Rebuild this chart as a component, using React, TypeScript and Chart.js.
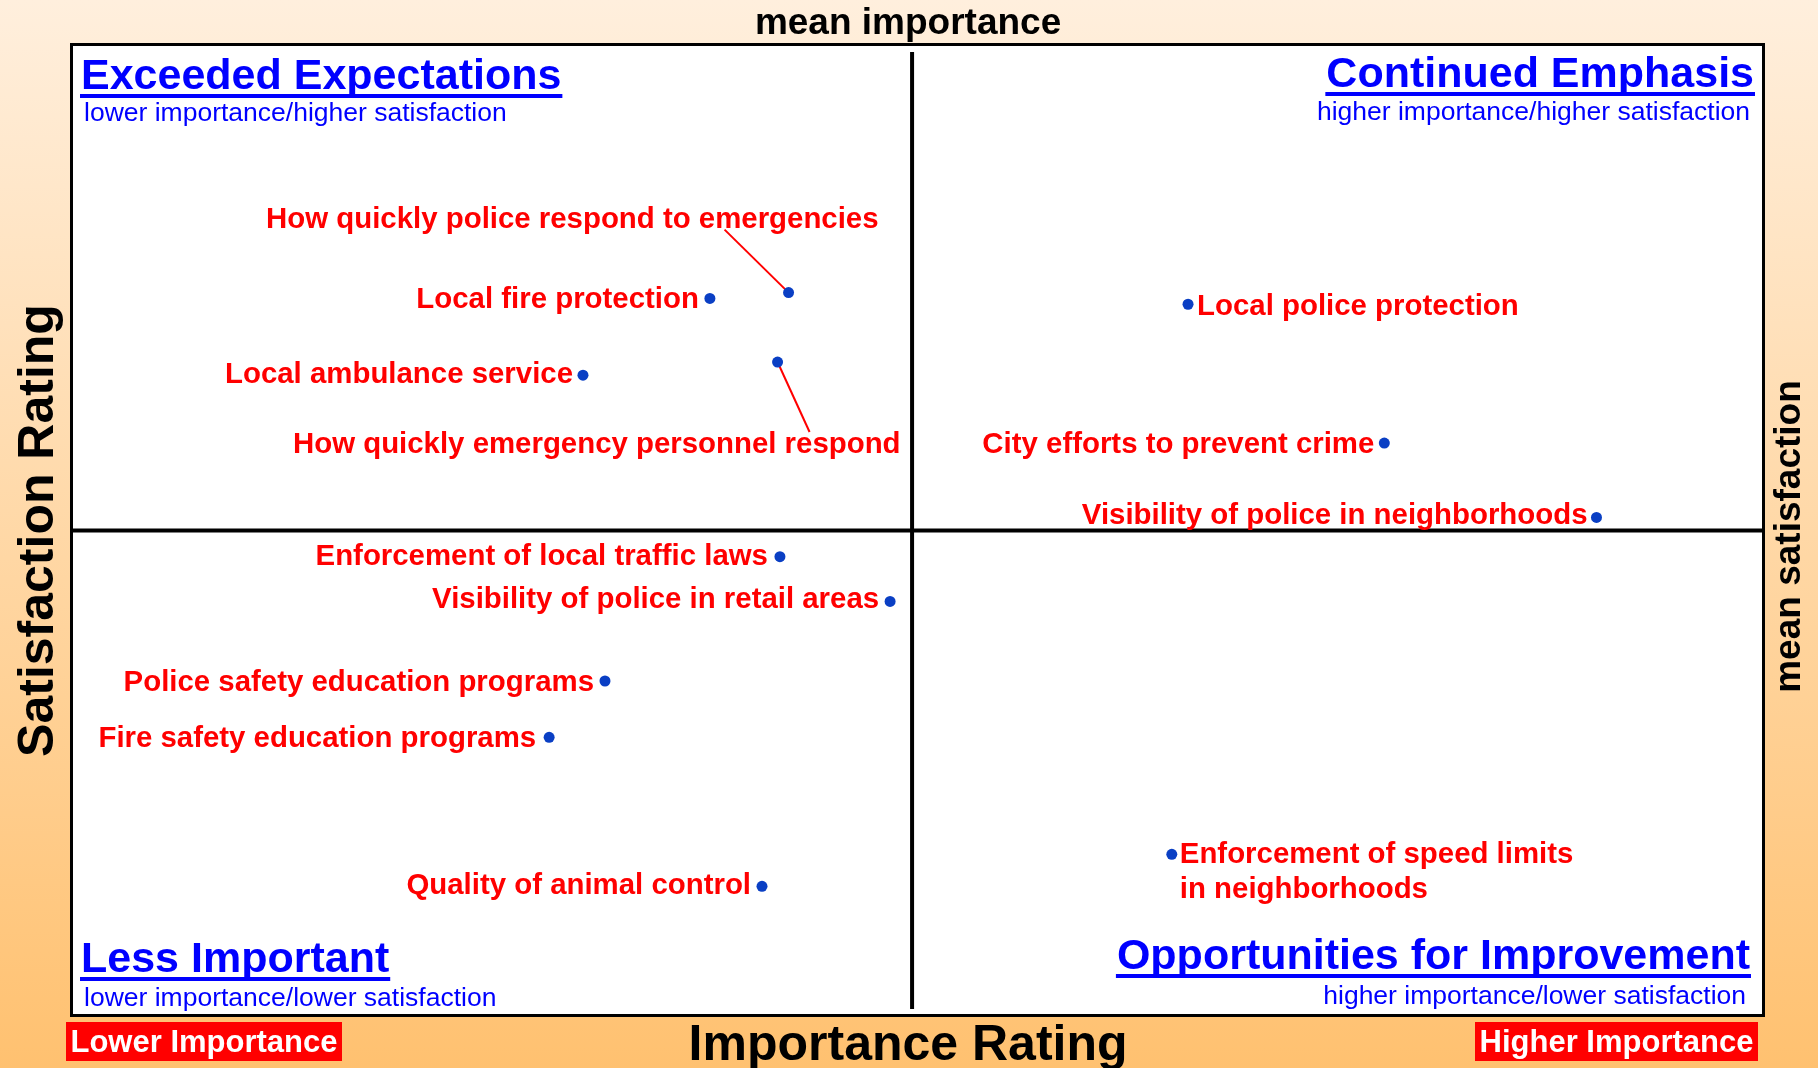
import React, { useEffect, useRef } from "react";
import { Chart, registerables } from "chart.js";

Chart.register(...registerables);

// ---------- data ----------
const items: string[] = [
  "How quickly police respond to emergencies",
  "Local fire protection",
  "Local ambulance service",
  "How quickly emergency personnel respond",
  "Local police protection",
  "City efforts to prevent crime",
  "Visibility of police in neighborhoods",
  "Enforcement of local traffic laws",
  "Visibility of police in retail areas",
  "Police safety education programs",
  "Fire safety education programs",
  "Quality of animal control",
  "Enforcement of speed limits\nin neighborhoods",
];
const importance: number[] = [42.35, 37.7, 30.2, 41.7, 65.96, 77.56, 90.1, 41.84, 48.35, 31.5, 28.2, 40.78, 65.0];
const satisfaction: number[] = [74.5, 73.9, 66.0, 67.35, 73.3, 59.0, 51.35, 47.3, 42.7, 34.5, 28.7, 13.35, 16.65];
const meanImportance = 49.65;
const meanSatisfaction = 50.0;

// label placement (style only): side of the text relative to the dot, plus offsets
type LabelLayout = { align: "left" | "right"; dx: number; dy: number; leader?: [number, number] };
const labelLayout: LabelLayout[] = [
  { align: "right", dx: 90, dy: -73, leader: [-64, -63] },
  { align: "right", dx: -11, dy: 1 },
  { align: "right", dx: -10, dy: 0 },
  { align: "right", dx: 123, dy: 83, leader: [32, 70] },
  { align: "left", dx: 9, dy: 3 },
  { align: "right", dx: -10, dy: 2 },
  { align: "right", dx: -9, dy: -2 },
  { align: "right", dx: -12, dy: 0 },
  { align: "right", dx: -11, dy: -1 },
  { align: "right", dx: -11, dy: 2 },
  { align: "right", dx: -13, dy: 2 },
  { align: "right", dx: -11, dy: 0 },
  { align: "left", dx: 8, dy: 1 },
];

const FONT = '"Liberation Sans", Arial, Helvetica, sans-serif';

const quadrantPlugin = {
  id: "quadrants",
  beforeDraw(chart: any) {
    const { ctx, chartArea: a, width, height } = chart;
    ctx.save();
    const g = ctx.createLinearGradient(0, 0, 0, height);
    g.addColorStop(0, "#FFEFDD");
    g.addColorStop(1, "#FFC170");
    ctx.fillStyle = g;
    ctx.fillRect(0, 0, width, height);
    ctx.fillStyle = "#FFFFFF";
    ctx.fillRect(a.left, a.top, a.right - a.left, a.bottom - a.top);
    ctx.restore();
  },
  beforeDatasetsDraw(chart: any) {
    const { ctx, chartArea: a, scales } = chart;
    const mx = scales.x.getPixelForValue(meanImportance);
    const my = scales.y.getPixelForValue(meanSatisfaction);
    ctx.save();
    ctx.strokeStyle = "#000";
    ctx.lineWidth = 3;
    ctx.strokeRect(a.left - 0.5, a.top - 0.5, a.right - a.left, a.bottom - a.top);
    ctx.lineWidth = 4;
    ctx.beginPath();
    ctx.moveTo(mx, a.top + 7);
    ctx.lineTo(mx, a.bottom - 7);
    ctx.moveTo(a.left, my);
    ctx.lineTo(a.right, my);
    ctx.stroke();

    // leader lines
    const meta = chart.getDatasetMeta(0);
    ctx.strokeStyle = "#FF0000";
    ctx.lineWidth = 2;
    labelLayout.forEach((l, i) => {
      if (!l.leader) return;
      const p = meta.data[i];
      ctx.beginPath();
      ctx.moveTo(p.x + l.leader[0], p.y + l.leader[1]);
      ctx.lineTo(p.x, p.y);
      ctx.stroke();
    });
    ctx.restore();
  },
  afterDatasetsDraw(chart: any) {
    const { ctx, chartArea: a } = chart;
    const meta = chart.getDatasetMeta(0);
    ctx.save();
    // point labels
    ctx.fillStyle = "#FF0000";
    ctx.font = `bold 29.4px ${FONT}`;
    ctx.textBaseline = "middle";
    items.forEach((name, i) => {
      const p = meta.data[i];
      const l = labelLayout[i];
      ctx.textAlign = l.align;
      name.split("\n").forEach((line, k) => {
        ctx.fillText(line, p.x + l.dx, p.y + l.dy + k * 35);
      });
    });

    // quadrant titles
    const title = (text: string, x: number, y: number, align: "left" | "right") => {
      ctx.font = `bold 43px ${FONT}`;
      ctx.fillStyle = "#0000FF";
      ctx.textAlign = align;
      ctx.textBaseline = "alphabetic";
      ctx.fillText(text, x, y);
      const w = ctx.measureText(text).width;
      const x0 = align === "left" ? x : x - w;
      ctx.fillRect(x0 - 1, y + 5, w + 2, 4);
    };
    const sub = (text: string, x: number, y: number, align: "left" | "right") => {
      ctx.font = `26.5px ${FONT}`;
      ctx.fillStyle = "#0000FF";
      ctx.textAlign = align;
      ctx.textBaseline = "alphabetic";
      ctx.fillText(text, x, y);
    };
    title("Exceeded Expectations", a.left + 9, a.top + 44, "left");
    sub("lower importance/higher satisfaction", a.left + 12, a.top + 76, "left");
    title("Continued Emphasis", a.right - 10, a.top + 42, "right");
    sub("higher importance/higher satisfaction", a.right - 14, a.top + 75, "right");
    title("Less Important", a.left + 9, a.bottom - 44, "left");
    sub("lower importance/lower satisfaction", a.left + 12, a.bottom - 10, "left");
    title("Opportunities for Improvement", a.right - 14, a.bottom - 47, "right");
    sub("higher importance/lower satisfaction", a.right - 18, a.bottom - 12, "right");

    // outer axis texts
    ctx.fillStyle = "#000";
    ctx.textAlign = "center";
    ctx.textBaseline = "alphabetic";
    const mx = chart.scales.x.getPixelForValue(meanImportance);
    const my = chart.scales.y.getPixelForValue(meanSatisfaction);
    ctx.font = `bold 37px ${FONT}`;
    ctx.fillText("mean importance", mx - 4, 34);

    ctx.font = `bold 50px ${FONT}`;
    ctx.fillText("Importance Rating", mx - 4, 1060);

    ctx.save();
    ctx.translate(53, (a.top + a.bottom) / 2);
    ctx.rotate(-Math.PI / 2);
    ctx.fillText("Satisfaction Rating", 0, 0);
    ctx.restore();

    ctx.save();
    ctx.font = `bold 37px ${FONT}`;
    ctx.translate(1800, my + 6);
    ctx.rotate(-Math.PI / 2);
    ctx.fillText("mean satisfaction", 0, 0);
    ctx.restore();

    // red importance tags
    const tag = (text: string, x0: number, x1: number) => {
      ctx.fillStyle = "#FF0000";
      ctx.fillRect(x0, 1022, x1 - x0, 39);
      ctx.fillStyle = "#FFFFFF";
      ctx.font = `bold 31px ${FONT}`;
      ctx.textAlign = "center";
      ctx.fillText(text, (x0 + x1) / 2, 1052);
    };
    tag("Lower Importance", 66, 342);
    tag("Higher Importance", 1475, 1758);
    ctx.restore();
  },
};

export default function App() {
  const ref = useRef<HTMLCanvasElement | null>(null);
  useEffect(() => {
    if (!ref.current) return;
    const chart = new Chart(ref.current, {
      type: "scatter",
      data: {
        datasets: [
          {
            label: "Items",
            data: importance.map((x, i) => ({ x, y: satisfaction[i] })),
            pointRadius: 5.5,
            pointHoverRadius: 5.5,
            backgroundColor: "#0A3FC4",
            borderWidth: 0,
          },
        ],
      },
      options: {
        animation: false,
        responsive: false,
        devicePixelRatio: 1,
        layout: { padding: { left: 72, top: 45, right: 54, bottom: 52 } },
        scales: {
          x: { type: "linear", min: 0, max: 100, display: false },
          y: { type: "linear", min: 0, max: 100, display: false },
        },
        plugins: { legend: { display: false }, tooltip: { enabled: false }, title: { display: false } },
      },
      plugins: [quadrantPlugin],
    });
    return () => chart.destroy();
  }, []);
  return (
    <div style={{ position: "fixed", left: 0, top: 0, width: 1818, height: 1068 }}>
      <canvas ref={ref} width={1818} height={1068} style={{ display: "block" }} />
    </div>
  );
}
